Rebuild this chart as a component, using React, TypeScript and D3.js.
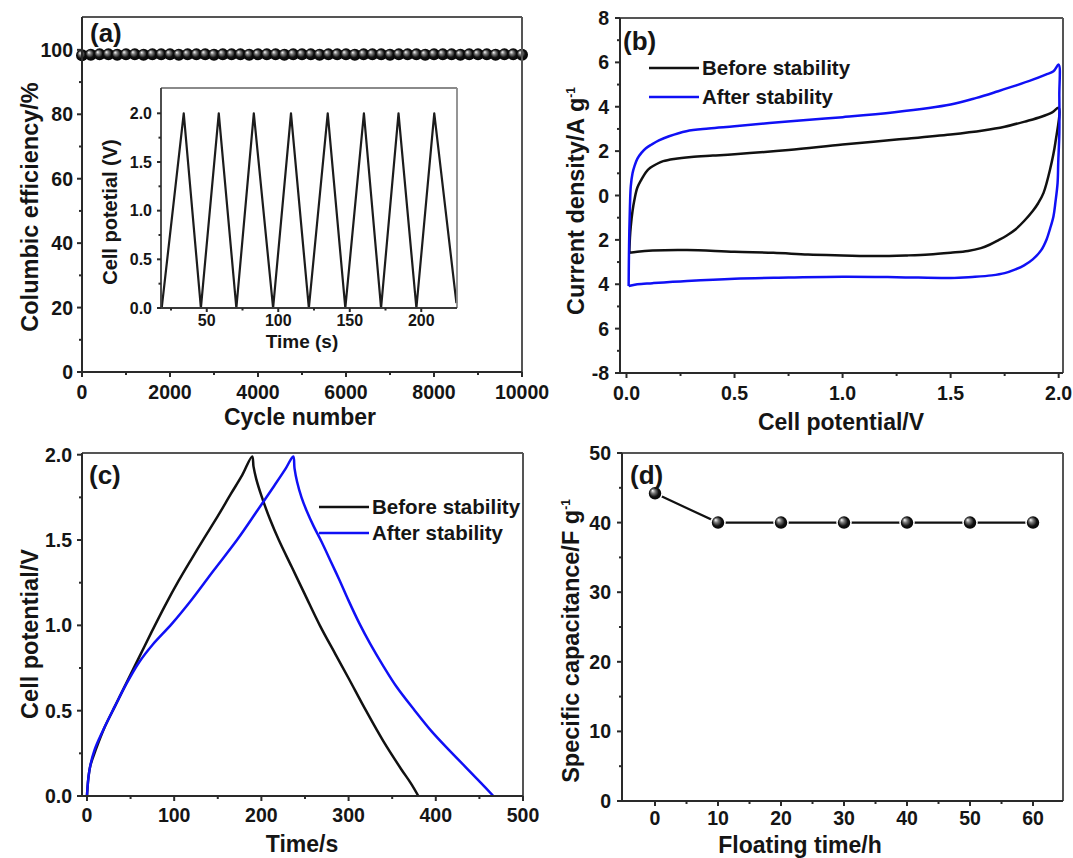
import React from "react";
import * as d3 from "d3";

const FONT = "'Liberation Sans', Arial, Helvetica, sans-serif";
const INK = "#151515";
const BLUE = "#1010f5";

// ---------- Panel (a): Columbic efficiency ----------
const cycleNumbers = [
  0, 200, 400, 600, 800, 1000, 1200, 1400, 1600, 1800, 2000, 2200, 2400, 2600, 2800, 3000, 3200,
  3400, 3600, 3800, 4000, 4200, 4400, 4600, 4800, 5000, 5200, 5400, 5600, 5800, 6000, 6200, 6400,
  6600, 6800, 7000, 7200, 7400, 7600, 7800, 8000, 8200, 8400, 8600, 8800, 9000, 9200, 9400, 9600,
  9800, 10000,
];
const columbicEfficiency = [
  98.3, 98.5, 98.6, 98.6, 98.5, 98.6, 98.6, 98.5, 98.6, 98.6, 98.6, 98.5, 98.6, 98.6, 98.6, 98.5,
  98.6, 98.6, 98.6, 98.5, 98.6, 98.6, 98.6, 98.5, 98.6, 98.6, 98.6, 98.5, 98.6, 98.6, 98.6, 98.5,
  98.6, 98.6, 98.6, 98.5, 98.6, 98.6, 98.6, 98.5, 98.6, 98.6, 98.6, 98.5, 98.6, 98.6, 98.6, 98.5,
  98.6, 98.6, 98.5,
];
const cycleTicks = [0, 2000, 4000, 6000, 8000, 10000];
const cycleMinorTicks = [1000, 3000, 5000, 7000, 9000];
const efficiencyTicks = [0, 20, 40, 60, 80, 100];
const efficiencyMinorTicks = [10, 30, 50, 70, 90];

// inset of (a)
const insetTime = [18.5, 33.9, 45.9, 58.4, 70.7, 82.9, 96.4, 108.9, 121.4, 134.6, 146.9, 159.9, 171.9, 184.1, 196.6, 209.1, 224.6];
const insetPotential = [0, 2.0, 0, 2.0, 0, 2.0, 0, 2.0, 0, 2.0, 0, 2.0, 0, 2.0, 0, 2.0, 0.05];
const insetTimeTicks = [50, 100, 150, 200];
const insetTimeMinorTicks = [25, 75, 125, 175];
const insetPotentialTicks = [0, 0.5, 1.0, 1.5, 2.0];
const insetPotentialMinorTicks = [0.25, 0.75, 1.25, 1.75];

// ---------- Panel (b): CV before / after ----------
const cvBeforePotential = [
  0.013, 0.016, 0.02, 0.028, 0.037, 0.05, 0.069, 0.09, 0.11, 0.14, 0.17, 0.22, 0.3, 0.4, 0.5, 0.75,
  1.0, 1.25, 1.5, 1.65, 1.75, 1.85, 1.92, 1.97, 2.0,
  1.985, 1.96, 1.93, 1.905, 1.88, 1.84, 1.8, 1.76, 1.72, 1.68, 1.64, 1.58, 1.5, 1.4, 1.3, 1.16, 1.0,
  0.84, 0.68, 0.5, 0.28, 0.12, 0.05, 0.013,
];
const cvBeforeCurrent = [
  -2.58, -1.9, -1.38, -0.7, -0.18, 0.35, 0.72, 1.05, 1.25, 1.42, 1.55, 1.65, 1.74, 1.8, 1.86, 2.05,
  2.3, 2.52, 2.75, 2.93, 3.1, 3.35, 3.55, 3.75, 3.95,
  2.4, 1.17, 0.12, -0.35, -0.7, -1.15, -1.53, -1.8, -2.02, -2.22, -2.37, -2.5, -2.58, -2.66, -2.7,
  -2.73, -2.7, -2.66, -2.58, -2.54, -2.46, -2.48, -2.53, -2.58,
];
const cvAfterPotential = [
  0.01, 0.011, 0.013, 0.016, 0.02, 0.028, 0.037, 0.05, 0.069, 0.09, 0.117, 0.15, 0.197, 0.277, 0.38,
  0.5, 0.76, 1.0, 1.24, 1.5, 1.62, 1.72, 1.8, 1.88, 1.94, 1.976, 2.0,
  2.003, 2.003, 1.998, 1.995, 1.985, 1.976, 1.96, 1.944, 1.92, 1.88, 1.84, 1.8, 1.75, 1.69, 1.6, 1.5,
  1.25, 1.0, 0.75, 0.5, 0.28, 0.12, 0.05, 0.01,
];
const cvAfterCurrent = [
  -4.08, -3.0, -1.68, -0.5, 0.42, 1.0, 1.32, 1.65, 1.92, 2.13, 2.3, 2.48, 2.67, 2.9, 3.02, 3.12, 3.35,
  3.53, 3.75, 4.1, 4.4, 4.7, 4.95, 5.22, 5.45, 5.6, 5.9,
  4.5, 2.8, 1.5, 0.57, -0.3, -0.93, -1.5, -1.98, -2.45, -2.88, -3.15, -3.33, -3.5, -3.6, -3.67, -3.72,
  -3.68, -3.66, -3.7, -3.75, -3.85, -3.95, -4.0, -4.08,
];
const cvPotentialTicks = [0, 0.5, 1.0, 1.5, 2.0];
const cvPotentialMinorTicks = [0.25, 0.75, 1.25, 1.75];
const currentTicks = [-8, -6, -4, -2, 0, 2, 4, 6, 8];
const currentTickLabels = ["-8", "6", "4", "2", "0", "2", "4", "6", "8"];
const currentMinorTicks = [-7, -5, -3, -1, 1, 3, 5, 7];

// ---------- Panel (c): GCD before / after ----------
const gcdBeforeTime = [
  0, 1.5, 4, 10, 20, 32, 45, 60, 74, 90, 105, 120, 133, 150, 165, 178, 189.4,
  191, 194, 200, 210, 220, 235, 250, 267, 285, 300, 320, 340, 360, 372, 380,
];
const gcdBeforePotential = [
  0, 0.1, 0.18, 0.27, 0.4, 0.525, 0.66, 0.815, 0.96, 1.12, 1.26, 1.39, 1.5, 1.64, 1.77, 1.88, 1.99,
  1.93, 1.86, 1.76, 1.62, 1.5, 1.34, 1.18, 1.0, 0.83, 0.69, 0.5, 0.32, 0.16, 0.07, 0,
];
const gcdAfterTime = [
  0, 2.8, 8.7, 18.5, 32, 45, 60, 75, 97.5, 120, 145, 172, 195, 215, 228, 236.5,
  238, 241, 246, 252, 260, 269, 280, 290, 300, 312.5, 325, 340, 355, 376, 395, 415, 435, 452, 466,
];
const gcdAfterPotential = [
  0, 0.15, 0.27, 0.385, 0.525, 0.655, 0.785, 0.885, 1.01, 1.15, 1.32, 1.5, 1.67, 1.82, 1.92, 1.99,
  1.92, 1.84, 1.75, 1.67, 1.58, 1.49, 1.37, 1.26, 1.145, 1.01, 0.89, 0.76, 0.64, 0.5, 0.38, 0.27,
  0.165, 0.075, 0,
];
const timeTicks = [0, 100, 200, 300, 400, 500];
const timeMinorTicks = [50, 150, 250, 350, 450];
const gcdPotentialTicks = [0, 0.5, 1.0, 1.5, 2.0];
const gcdPotentialMinorTicks = [0.25, 0.75, 1.25, 1.75];

// ---------- Panel (d): capacitance vs floating time ----------
const floatingTime = [0, 10, 20, 30, 40, 50, 60];
const specificCapacitance = [44.2, 40.0, 40.0, 40.0, 40.0, 40.0, 40.0];
const floatingTicks = [0, 10, 20, 30, 40, 50, 60];
const floatingMinorTicks = [5, 15, 25, 35, 45, 55];
const capacitanceTicks = [0, 10, 20, 30, 40, 50];
const capacitanceMinorTicks = [5, 15, 25, 35, 45];

type Scale = d3.ScaleLinear<number, number>;

function Frame({ x, y, color = "#2a2a2a", light = "#555", sw = 2 }: { x: Scale; y: Scale; color?: string; light?: string; sw?: number }) {
  const [x0, x1] = x.range();
  const [y0, y1] = y.range();
  return (
    <g fill="none">
      <line x1={x0} x2={x1} y1={y1} y2={y1} stroke={light} strokeWidth={sw} />
      <line x1={x1} x2={x1} y1={y1} y2={y0} stroke={light} strokeWidth={sw} />
      <line x1={x0} x2={x1} y1={y0} y2={y0} stroke={color} strokeWidth={sw} />
      <line x1={x0} x2={x0} y1={y1} y2={y0} stroke={color} strokeWidth={sw} />
    </g>
  );
}

function XAxis({ x, y, ticks, minor, fmt, fontSize, labelDy, tickLen = 5, minorLen = 3, color = "#2a2a2a", labels }: any) {
  const yb = y.range()[0];
  return (
    <g>
      {ticks.map((t: number) => (
        <line key={"M" + t} x1={x(t)} x2={x(t)} y1={yb} y2={yb + tickLen} stroke={color} strokeWidth={2} />
      ))}
      {minor.map((t: number) => (
        <line key={"m" + t} x1={x(t)} x2={x(t)} y1={yb} y2={yb + minorLen} stroke={color} strokeWidth={2} />
      ))}
      {ticks.map((t: number, i: number) => (
        <text key={"L" + t} x={x(t)} y={yb + labelDy} textAnchor="middle" fontSize={fontSize} fontWeight="bold" fill={INK} fontFamily={FONT}>
          {labels ? labels[i] : fmt(t)}
        </text>
      ))}
    </g>
  );
}

function YAxis({ x, y, ticks, minor, fmt, fontSize, labelDx, tickLen = 5, minorLen = 3, color = "#2a2a2a", labels }: any) {
  const xl = x.range()[0];
  return (
    <g>
      {ticks.map((t: number) => (
        <line key={"M" + t} x1={xl - tickLen} x2={xl} y1={y(t)} y2={y(t)} stroke={color} strokeWidth={2} />
      ))}
      {minor.map((t: number) => (
        <line key={"m" + t} x1={xl - minorLen} x2={xl} y1={y(t)} y2={y(t)} stroke={color} strokeWidth={2} />
      ))}
      {ticks.map((t: number, i: number) => (
        <text key={"L" + t} x={xl - labelDx} y={y(t)} dy="0.36em" textAnchor="end" fontSize={fontSize} fontWeight="bold" fill={INK} fontFamily={FONT}>
          {labels ? labels[i] : fmt(t)}
        </text>
      ))}
    </g>
  );
}

function Label({ x, y, children, size = 26 }: any) {
  return (
    <text x={x} y={y} fontSize={size} fontWeight="bold" fill={INK} fontFamily={FONT}>
      {children}
    </text>
  );
}

function YTitle({ cx, cy, children, size = 23.5 }: any) {
  return (
    <text transform={`translate(${cx},${cy}) rotate(-90)`} textAnchor="middle" fontSize={size} fontWeight="bold" fill={INK} fontFamily={FONT}>
      {children}
    </text>
  );
}

function XTitle({ cx, cy, children, size = 23 }: any) {
  return (
    <text x={cx} y={cy} textAnchor="middle" fontSize={size} fontWeight="bold" fill={INK} fontFamily={FONT}>
      {children}
    </text>
  );
}

function Legend({ x, y, gap, items }: { x: number; y: number; gap: number; items: { label: string; color: string }[] }) {
  return (
    <g>
      {items.map((it, i) => (
        <g key={it.label}>
          <line x1={x} x2={x + 50} y1={y + i * gap} y2={y + i * gap} stroke={it.color} strokeWidth={2.5} />
          <text x={x + 53} y={y + i * gap} dy="0.36em" fontSize={20.5} fontWeight="bold" fill={INK} fontFamily={FONT}>
            {it.label}
          </text>
        </g>
      ))}
    </g>
  );
}

export default function App() {
  const f0 = d3.format("d");
  const f1 = d3.format(".1f");

  // (a)
  const xa = d3.scaleLinear().domain([0, 10000]).range([82, 522]);
  const ya = d3.scaleLinear().domain([0, 110.2]).range([372, 17]);
  const xi = d3.scaleLinear().domain([18, 225]).range([161, 457]);
  const yi = d3.scaleLinear().domain([0, 2.26]).range([308, 88]);
  const insetLine = d3
    .line<number>()
    .x((_, i) => xi(insetTime[i]))
    .y((_, i) => yi(insetPotential[i]));

  // (b)
  const xb = d3.scaleLinear().domain([-0.03, 2.02]).range([620, 1063]);
  const yb = d3.scaleLinear().domain([-8, 8]).range([373, 18]);
  const cvLine = (vx: number[], vy: number[]) =>
    d3
      .line<number>()
      .x((_, i) => xb(vx[i]))
      .y((_, i) => yb(vy[i]))
      .curve(d3.curveCatmullRom.alpha(0.5))(vx);

  // (c)
  const xc = d3.scaleLinear().domain([-5.7, 500]).range([82, 523]);
  const yc = d3.scaleLinear().domain([0, 2.01]).range([796, 453]);
  const gcdLine = (vx: number[], vy: number[]) =>
    d3
      .line<number>()
      .x((_, i) => xc(vx[i]))
      .y((_, i) => yc(vy[i]))
      .curve(d3.curveCatmullRom.alpha(0.5))(vx);

  // (d)
  const xd = d3.scaleLinear().domain([-5.24, 64.76]).range([622, 1063]);
  const yd = d3.scaleLinear().domain([0, 50]).range([801, 453]);
  const capLine = d3
    .line<number>()
    .x((_, i) => xd(floatingTime[i]))
    .y((_, i) => yd(specificCapacitance[i]));

  return (
    <svg
      width={1073}
      height={858}
      viewBox="0 0 1073 858"
      style={{ position: "absolute", left: 0, top: 0, background: "#fff" }}
    >
      <defs>
        <radialGradient id="sphere" cx="50%" cy="50%" r="55%" fx="32%" fy="30%">
          <stop offset="0%" stopColor="#ffffff" />
          <stop offset="28%" stopColor="#7a7a7a" />
          <stop offset="60%" stopColor="#111" />
          <stop offset="100%" stopColor="#000" />
        </radialGradient>
      </defs>
      <rect x={0} y={0} width={1073} height={858} fill="#fff" />

      {/* ===== Panel (a) ===== */}
      <g>
        {cycleNumbers.map((c, i) => (
          <circle key={c} cx={xa(c)} cy={ya(columbicEfficiency[i])} r={6} fill="url(#sphere)" />
        ))}
        <Frame x={xa} y={ya} />
        <XAxis x={xa} y={ya} ticks={cycleTicks} minor={cycleMinorTicks} fmt={f0} fontSize={19.5} labelDy={27} />
        <YAxis x={xa} y={ya} ticks={efficiencyTicks} minor={efficiencyMinorTicks} fmt={f0} fontSize={19.5} labelDx={9} />
        <Label x={90} y={42}>(a)</Label>
        <YTitle cx={38} cy={207}>Columbic efficiency/%</YTitle>
        <XTitle cx={300} cy={425}>Cycle number</XTitle>

        {/* inset */}
        <path d={insetLine(insetTime) || ""} fill="none" stroke="#1c1c1c" strokeWidth={2.2} strokeLinejoin="round" />
        <Frame x={xi} y={yi} color="#3a3a3a" light="#8a8a8a" sw={1.8} />
        <XAxis x={xi} y={yi} ticks={insetTimeTicks} minor={insetTimeMinorTicks} fmt={f0} fontSize={16} labelDy={18} tickLen={4} minorLen={2.5} />
        <YAxis x={xi} y={yi} ticks={insetPotentialTicks} minor={insetPotentialMinorTicks} fmt={f1} fontSize={16} labelDx={9} tickLen={4} minorLen={2.5} />
        <YTitle cx={117} cy={212} size={20}>Cell potetial (V)</YTitle>
        <XTitle cx={302} cy={348} size={19}>Time (s)</XTitle>
      </g>

      {/* ===== Panel (b) ===== */}
      <g>
        <path d={cvLine(cvBeforePotential, cvBeforeCurrent) || ""} fill="none" stroke="#111" strokeWidth={2.5} />
        <path d={cvLine(cvAfterPotential, cvAfterCurrent) || ""} fill="none" stroke={BLUE} strokeWidth={2.5} />
        <Frame x={xb} y={yb} />
        <XAxis x={xb} y={yb} ticks={cvPotentialTicks} minor={cvPotentialMinorTicks} fmt={f1} fontSize={19.5} labelDy={27} />
        <YAxis x={xb} y={yb} ticks={currentTicks} minor={currentMinorTicks} labels={currentTickLabels} fontSize={19.5} labelDx={11} />
        <Label x={623} y={50}>(b)</Label>
        <Legend
          x={649}
          y={68}
          gap={29}
          items={[
            { label: "Before stability", color: "#111" },
            { label: "After stability", color: BLUE },
          ]}
        />
        <YTitle cx={584} cy={201}>
          Current density/A g<tspan dy="-9" fontSize={12}>-1</tspan>
        </YTitle>
        <XTitle cx={841} cy={430}>Cell potential/V</XTitle>
      </g>

      {/* ===== Panel (c) ===== */}
      <g>
        <path d={gcdLine(gcdBeforeTime, gcdBeforePotential) || ""} fill="none" stroke="#111" strokeWidth={2.5} />
        <path d={gcdLine(gcdAfterTime, gcdAfterPotential) || ""} fill="none" stroke={BLUE} strokeWidth={2.5} />
        <Frame x={xc} y={yc} />
        <XAxis x={xc} y={yc} ticks={timeTicks} minor={timeMinorTicks} fmt={f0} fontSize={19.5} labelDy={26} />
        <YAxis x={xc} y={yc} ticks={gcdPotentialTicks} minor={gcdPotentialMinorTicks} fmt={f1} fontSize={19.5} labelDx={10} />
        <Label x={89} y={484}>(c)</Label>
        <Legend
          x={319}
          y={507}
          gap={26}
          items={[
            { label: "Before stability", color: "#111" },
            { label: "After stability", color: BLUE },
          ]}
        />
        <YTitle cx={38} cy={634}>Cell potential/V</YTitle>
        <XTitle cx={302} cy={852}>Time/s</XTitle>
      </g>

      {/* ===== Panel (d) ===== */}
      <g>
        <path d={capLine(floatingTime) || ""} fill="none" stroke="#111" strokeWidth={2.2} />
        {floatingTime.map((t, i) => (
          <circle key={t} cx={xd(t)} cy={yd(specificCapacitance[i])} r={7} fill="url(#sphere)" stroke="#fff" strokeWidth={1.5} />
        ))}
        <Frame x={xd} y={yd} />
        <XAxis x={xd} y={yd} ticks={floatingTicks} minor={floatingMinorTicks} fmt={f0} fontSize={19.5} labelDy={24} />
        <YAxis x={xd} y={yd} ticks={capacitanceTicks} minor={capacitanceMinorTicks} fmt={f0} fontSize={19.5} labelDx={11} />
        <Label x={630} y={484}>(d)</Label>
        <YTitle cx={579} cy={641}>
          Specific capacitance/F g<tspan dy="-9" fontSize={12}>-1</tspan>
        </YTitle>
        <XTitle cx={800} cy={853}>Floating time/h</XTitle>
      </g>
    </svg>
  );
}
